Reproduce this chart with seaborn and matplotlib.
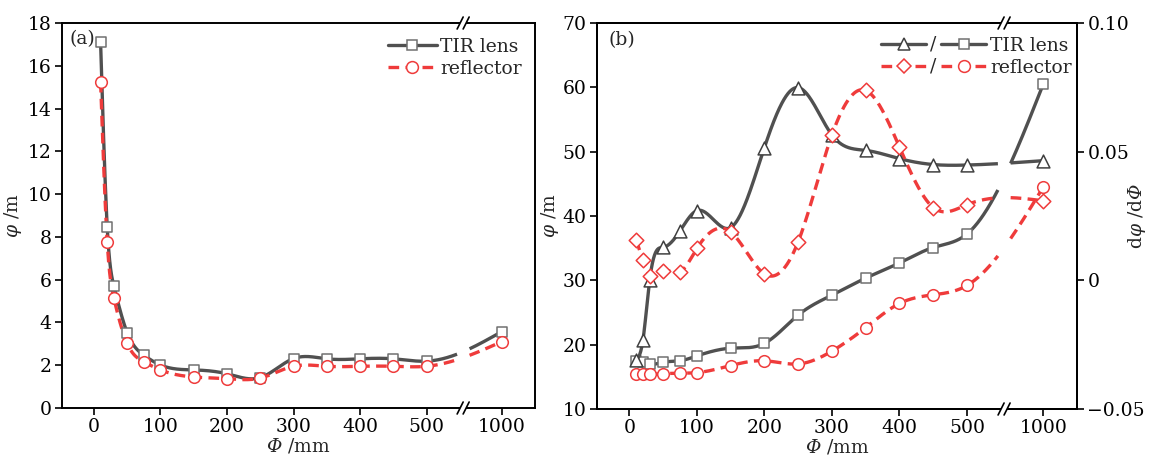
import numpy as np
import pandas as pd
import matplotlib
matplotlib.use("Agg")
import matplotlib.pyplot as plt
from matplotlib.lines import Line2D
from matplotlib.text import Text
import seaborn as sns

# ---------------- data ----------------
phi_mm = [10, 20, 30, 50, 75, 100, 150, 200, 250, 300, 350, 400, 450, 500, 1000]
x_ticks = [0, 100, 200, 300, 400, 500, 1000]

# panel (a): phi / m
tir_a = [17.1, 8.45, 5.7, 3.52, 2.47, 2.01, 1.78, 1.60, 1.42, 2.31, 2.30, 2.30, 2.30, 2.19, 3.57]
refl_a = [15.25, 7.75, 5.13, 3.02, 2.16, 1.78, 1.45, 1.37, 1.40, 1.95, 1.95, 1.95, 1.95, 1.95, 3.1]

# panel (b): phi / m (left axis)
tir_b = [17.5, 17.37, 17.0, 17.27, 17.5, 18.25, 19.45, 20.2, 24.6, 27.7, 30.35, 32.7, 35.1, 37.2, 60.5]
refl_b = [15.4, 15.4, 15.4, 15.5, 15.55, 15.65, 16.75, 17.5, 17.0, 19.0, 22.65, 26.4, 27.75, 29.2, 44.5]
# panel (b): d phi / d Phi (right axis)
tir_d = [-0.0311, -0.0233, 0.0, 0.0128, 0.0192, 0.0271, 0.0205, 0.0516, 0.0749, 0.0565,
         0.0505, 0.0473, 0.0450, 0.0448, 0.0465]
refl_d = [0.0157, 0.0078, 0.0018, 0.0035, 0.0033, 0.0124, 0.0188, 0.0025, 0.0150, 0.0565,
          0.0738, 0.0518, 0.0283, 0.0294, 0.0309]
d_ticks = [-0.05, 0, 0.05, 0.10]
d_ticklabels = ["\u22120.05", "0", "0.05", "0.10"]

# ---------------- style ----------------
sns.set_theme(style="ticks")
plt.rcParams["font.family"] = ["DejaVu Serif"]
plt.rcParams["mathtext.fontset"] = "custom"
plt.rcParams["mathtext.rm"] = "DejaVu Serif"
plt.rcParams["mathtext.it"] = "DejaVu Serif:italic"
plt.rcParams["mathtext.bf"] = "DejaVu Serif:bold"
plt.rcParams["mathtext.sf"] = "DejaVu Serif:italic"
FS = 13.5

GRAY = "#505050"
MGRAY = "#707070"
RED = "#ef3b3b"
DASH = (0, (3.2, 1.9))

XLAB = r"$\mathsf{\Phi}$ /mm"
YLAB = r"$\varphi$ /m"
DLAB = r"d$\varphi$ /d$\mathsf{\Phi}$"

# broken x axis (library function scale)
B = 555.0
K = 58.0 / 445.0


def fwd(x):
    x = np.asarray(x, float)
    return np.where(x <= B, x, B + (x - B) * K)


def inv(t):
    t = np.asarray(t, float)
    return np.where(t <= B, t, B + (t - B) / K)


def natural_spline(xs, ys, xq):
    xs = np.asarray(xs, float)
    ys = np.asarray(ys, float)
    n = len(xs)
    h = np.diff(xs)
    A = np.zeros((n, n))
    r = np.zeros(n)
    A[0, 0] = 1
    A[-1, -1] = 1
    for i in range(1, n - 1):
        A[i, i - 1] = h[i - 1]
        A[i, i] = 2 * (h[i - 1] + h[i])
        A[i, i + 1] = h[i]
        r[i] = 6 * ((ys[i + 1] - ys[i]) / h[i] - (ys[i] - ys[i - 1]) / h[i - 1])
    M = np.linalg.solve(A, r)
    idx = np.clip(np.searchsorted(xs, xq) - 1, 0, n - 2)
    x0, x1 = xs[idx], xs[idx + 1]
    hh = x1 - x0
    a = (x1 - xq) / hh
    b = (xq - x0) / hh
    return a * ys[idx] + b * ys[idx + 1] + ((a ** 3 - a) * M[idx] + (b ** 3 - b) * M[idx + 1]) * hh ** 2 / 6


def smooth_curve(ax, xs, ys, color, ls, lw=2.4):
    t = fwd(xs)
    tt = np.linspace(t[0], t[-1], 800)
    yy = natural_spline(t, ys, tt)
    yy[(tt > 546) & (tt < 564)] = np.nan
    ax.plot(inv(tt), yy, color=color, ls=ls, lw=lw, zorder=2, solid_capstyle="butt")


def markers(ax, xs, ys, marker, ec, s):
    df = pd.DataFrame({"x": xs, "y": ys})
    sns.scatterplot(data=df, x="x", y="y", ax=ax, marker=marker, s=s, facecolor="white",
                    edgecolor=ec, linewidth=1.1, zorder=4, legend=False)


def break_marks(ax, frac, axw, axh):
    dx = 3.0 / axw
    for yb in (0.0, 1.0):
        ax.plot([frac - dx, frac + dx], [yb, yb], color="white", lw=3, transform=ax.transAxes,
                clip_on=False, zorder=20, solid_capstyle="butt")
        for off in (-dx, dx):
            ax.plot([frac + off - 3.0 / axw, frac + off + 3.0 / axw],
                    [yb - 6.0 / axh, yb + 6.0 / axh], color="black", lw=1.2,
                    transform=ax.transAxes, clip_on=False, zorder=21)


def style_axes(ax, right=False):
    for sp in ax.spines.values():
        sp.set_visible(True)
        sp.set_linewidth(1.4)
        sp.set_color("black")
    ax.tick_params(axis="both", direction="out", length=5, width=1.2, pad=2.5,
                   labelsize=FS, colors="black")
    ax.tick_params(top=False)
    if not right:
        ax.tick_params(right=False)


class PairHandler:
    def __init__(self, specs):
        self.specs = specs

    def legend_artist(self, legend, orig_handle, fontsize, handlebox):
        x0, y0 = handlebox.xdescent, handlebox.ydescent
        w, h = handlebox.width, handlebox.height
        ym = y0 + h / 2
        segs = [(x0, x0 + 0.43 * w), (x0 + 0.57 * w, x0 + w)]
        first = None
        for (a, b), (c, ls, mk, ms, mec) in zip(segs, self.specs):
            ln = Line2D([a, b], [ym, ym], color=c, ls=ls, lw=2.4)
            mkr = Line2D([(a + b) / 2], [ym], ls="none", marker=mk, ms=ms, mfc="white",
                         mec=mec, mew=1.1)
            handlebox.add_artist(ln)
            handlebox.add_artist(mkr)
            if first is None:
                first = ln
        t = Text(x0 + 0.5 * w, ym, "/", ha="center", va="center", fontsize=fontsize,
                 family="DejaVu Serif")
        handlebox.add_artist(t)
        return first


fig = plt.figure(figsize=(11.5, 4.57), dpi=100)
fig.patch.set_facecolor("white")

XT0, XT1 = -48.0, 663.0
xlim = (XT0, float(inv(XT1)))
brk_frac = (B - XT0) / (XT1 - XT0)

# ---------------- panel (a) ----------------
axa = fig.add_axes([62 / 1150, 49 / 457, 473 / 1150, 385 / 457])
axa.set_xscale("function", functions=(fwd, inv))
smooth_curve(axa, phi_mm, tir_a, GRAY, "-")
smooth_curve(axa, phi_mm, refl_a, RED, DASH)
markers(axa, phi_mm, tir_a, "s", MGRAY, 55)
markers(axa, phi_mm, refl_a, "o", RED, 70)
axa.set_xlim(*xlim)
axa.set_ylim(0, 18)
axa.set_xticks(x_ticks)
axa.set_xticklabels([str(v) for v in x_ticks])
axa.set_yticks(np.arange(0, 19, 2))
axa.minorticks_off()
style_axes(axa)
axa.set_xlabel(XLAB, fontsize=FS, labelpad=0)
axa.set_ylabel(YLAB, fontsize=FS, labelpad=3)
axa.text(0.015, 0.958, "(a)", transform=axa.transAxes, fontsize=FS, va="center", ha="left")
h1 = Line2D([], [], color=GRAY, lw=2.4, marker="s", ms=7.5, mfc="white", mec=MGRAY, mew=1.1)
h2 = Line2D([], [], color=RED, lw=2.4, ls=DASH, marker="o", ms=8.5, mfc="white", mec=RED, mew=1.1)
axa.legend([h1, h2], ["TIR lens", "reflector"], loc="upper right", frameon=False, fontsize=FS,
           handlelength=2.6, handletextpad=0.2, labelspacing=0.2, borderaxespad=0.3,
           bbox_to_anchor=(1.0, 0.995))
break_marks(axa, brk_frac, 473, 385)

# ---------------- panel (b) ----------------
axb = fig.add_axes([597 / 1150, 48 / 457, 480 / 1150, 386 / 457])
axb.set_xscale("function", functions=(fwd, inv))
ax2 = axb.twinx()
smooth_curve(axb, phi_mm, tir_b, GRAY, "-")
smooth_curve(axb, phi_mm, refl_b, RED, DASH)
markers(axb, phi_mm, tir_b, "s", MGRAY, 55)
markers(axb, phi_mm, refl_b, "o", RED, 70)
smooth_curve(ax2, phi_mm, tir_d, GRAY, "-")
smooth_curve(ax2, phi_mm, refl_d, RED, DASH)
markers(ax2, phi_mm, tir_d, "^", "#404040", 85)
markers(ax2, phi_mm, refl_d, "D", RED, 55)
axb.set_xlim(*xlim)
ax2.set_xlim(*xlim)
axb.set_ylim(10, 70)
ax2.set_ylim(-0.05, 0.10)
axb.set_xticks(x_ticks)
axb.set_xticklabels([str(v) for v in x_ticks])
axb.set_yticks(np.arange(10, 71, 10))
ax2.set_yticks(d_ticks)
ax2.set_yticklabels(d_ticklabels)
axb.minorticks_off()
ax2.minorticks_off()
style_axes(axb)
style_axes(ax2, right=True)
ax2.tick_params(left=False, right=True, labelright=True, bottom=False)
axb.tick_params(right=False)
axb.set_xlabel(XLAB, fontsize=FS, labelpad=0)
axb.set_ylabel(YLAB, fontsize=FS, labelpad=1)
ax2.set_ylabel(DLAB, fontsize=FS)
ax2.yaxis.set_label_coords(1.103, 0.5)
ax2.set_xlabel("")
ax2.text(0.025, 0.955, "(b)", transform=ax2.transAxes, fontsize=FS, va="center", ha="left")
p1 = Line2D([], [], color=GRAY)
p2 = Line2D([], [], color=RED)
hmap = {
    p1: PairHandler([(GRAY, "-", "^", 9, "#404040"), (GRAY, "-", "s", 7.5, MGRAY)]),
    p2: PairHandler([(RED, DASH, "D", 7.5, RED), (RED, DASH, "o", 8.5, RED)]),
}
ax2.legend([p1, p2], ["TIR lens", "reflector"], handler_map=hmap, loc="upper right",
           frameon=False, fontsize=FS, handlelength=5.6, handletextpad=0.2, labelspacing=0.2,
           borderaxespad=0.3, bbox_to_anchor=(1.016, 0.998))
break_marks(ax2, brk_frac, 480, 386)

fig.savefig("out.png", dpi=100, facecolor="white")
